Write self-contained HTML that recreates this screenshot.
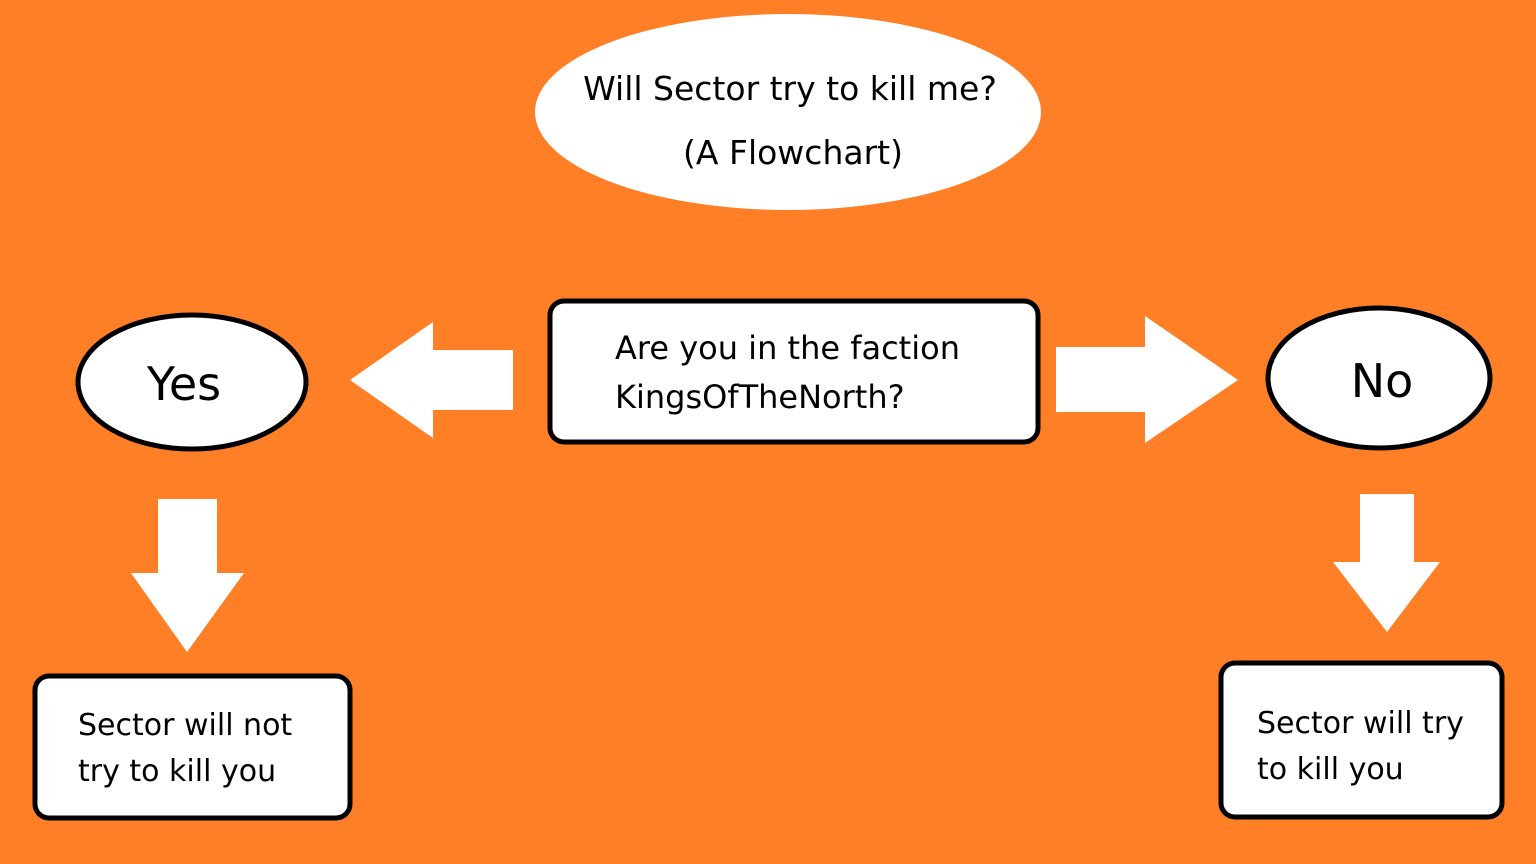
<!DOCTYPE html>
<html><head><meta charset="utf-8"><style>
html,body{margin:0;padding:0;background:#FF7F27;}
svg{display:block}
text{font-family:"DejaVu Sans","Liberation Sans",sans-serif;fill:#000}
</style></head><body>
<svg width="1536" height="864" viewBox="0 0 1536 864" xmlns="http://www.w3.org/2000/svg">
<rect width="1536" height="864" fill="#FF7F27"/>
<ellipse cx="788" cy="112" rx="253" ry="98" fill="#fff"/>
<text x="790" y="100" font-size="33" text-anchor="middle">Will Sector try to kill me?</text>
<text x="793" y="164" font-size="33" text-anchor="middle">(A Flowchart)</text>

<rect x="550" y="301" width="488" height="141" rx="14" fill="#fff" stroke="#000" stroke-width="5"/>
<text x="615" y="359" font-size="32">Are you in the faction</text>
<text x="615" y="408" font-size="32">KingsOfTheNorth?</text>

<polygon points="350,380 433,322 433,350 513,350 513,410 433,410 433,438" fill="#fff"/>
<polygon points="1238,380 1145,316 1145,347 1056,347 1056,412 1145,412 1145,443" fill="#fff"/>

<ellipse cx="192" cy="382" rx="114" ry="67" fill="#fff" stroke="#000" stroke-width="5"/>
<text x="184" y="400" font-size="46" text-anchor="middle">Yes</text>
<ellipse cx="1379" cy="378" rx="111" ry="70" fill="#fff" stroke="#000" stroke-width="5"/>
<text x="1382" y="397" font-size="46" text-anchor="middle">No</text>

<polygon points="158,499 217,499 217,573 244,573 187,652 131,573 158,573" fill="#fff"/>
<polygon points="1360,494 1414,494 1414,562 1440,562 1387,632 1333,562 1360,562" fill="#fff"/>

<rect x="35" y="676" width="315" height="142" rx="14" fill="#fff" stroke="#000" stroke-width="5"/>
<text x="78" y="735" font-size="30">Sector will not</text>
<text x="78" y="781" font-size="30">try to kill you</text>

<rect x="1221" y="663" width="281" height="154" rx="14" fill="#fff" stroke="#000" stroke-width="5"/>
<text x="1257" y="733" font-size="30">Sector will try</text>
<text x="1257" y="779" font-size="30">to kill you</text>
</svg>
</body></html>
